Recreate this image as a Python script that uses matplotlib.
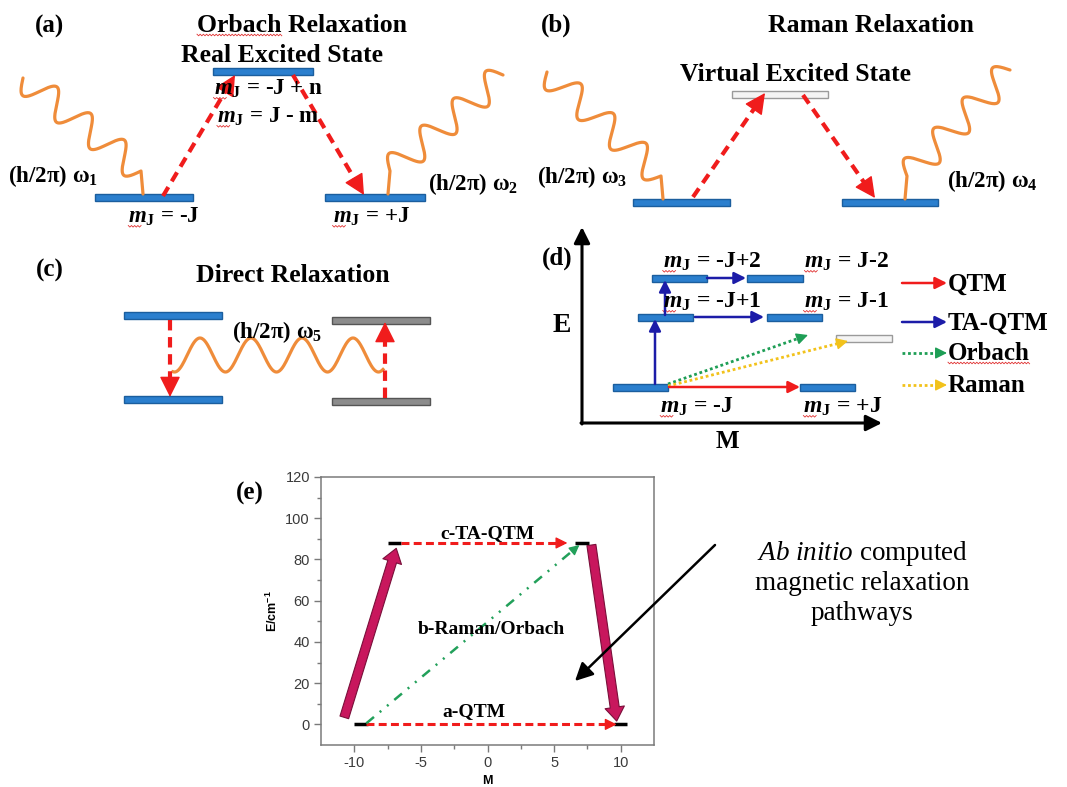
import numpy as np
import matplotlib.pyplot as plt
from matplotlib.patches import Rectangle

plt.rcParams['font.family'] = ['Liberation Serif', 'DejaVu Serif']
plt.rcParams['mathtext.fontset'] = 'custom'
plt.rcParams['mathtext.rm'] = 'Liberation Serif'
plt.rcParams['mathtext.it'] = 'Liberation Serif:italic'
plt.rcParams['mathtext.bf'] = 'Liberation Serif:bold'
plt.rcParams['mathtext.bfit'] = 'Liberation Serif:italic:bold'
plt.rcParams['mathtext.sf'] = 'Liberation Sans:bold'
plt.rcParams['axes.unicode_minus'] = False

# panel (e): computed levels (M, E in cm-1) and pathways
e_level_M = [-9.5, 10.0, -7.0, 7.1]
e_level_E = [0, 0, 88, 88]
e_qtm_M = [-9.1, 9.7]
e_qtm_E = [0, 0]
e_taqtm_M = [-6.5, 6.0]
e_taqtm_E = [88, 88]
e_orbach_M = [-9.1, 6.9]
e_orbach_E = [0.5, 87]
e_up_M = [-10.75, -6.85]
e_up_E = [3.4, 85.4]
e_down_M = [7.8, 9.7]
e_down_E = [87, 1.6]
e_xticks = [-10, -5, 0, 5, 10]
e_yticks = [0, 20, 40, 60, 80, 100, 120]

BLUE = ('#2b7fce', '#1b5e9e')
GREY = ('#8c8c8c', '#555555')
VIRT = ('#f4f4f4', '#9a9a9a')
RED = '#f01c1c'
ORANGE = '#ef8c3a'
NAVY = '#1c1ca8'

fig = plt.figure(figsize=(10.67, 7.87), dpi=100)
ax = fig.add_axes([0, 0, 1, 1])
ax.set_xlim(0, 1067)
ax.set_ylim(787, 0)
ax.axis('off')

underlined = []  # (text, width in px or None for whole word)


def level(x0, x1, y, style=BLUE, h=7):
    ax.add_patch(Rectangle((x0, y - h / 2), x1 - x0, h, facecolor=style[0],
                           edgecolor=style[1], lw=1))


def head(a, p0, p1, color, scale, hl=0.5, hw=0.25, lw=1):
    a.annotate('', xy=p1, xytext=p0, annotation_clip=False,
               arrowprops=dict(arrowstyle=f'-|>,head_length={hl},head_width={hw}',
                               color=color, lw=lw, mutation_scale=scale,
                               shrinkA=0, shrinkB=0))


def dashed_arrow(a, p0, p1, color, lw=3, dash=(2.5, 1.6), scale=26, hl=0.5, hw=0.25):
    tr = a.transData
    d0 = tr.transform(p0)
    d1 = tr.transform(p1)
    u = (d1 - d0) / np.hypot(*(d1 - d0))
    hpx = hl * scale * fig.dpi / 72
    back = tr.inverted().transform(d1 - u * hpx)
    mid = tr.inverted().transform(d1 - u * hpx * 0.5)
    a.plot([p0[0], mid[0]], [p0[1], mid[1]], color=color, lw=lw, ls=(0, dash),
           dash_capstyle='butt', clip_on=False)
    head(a, back, p1, color, scale, hl, hw)


def photon(p0, p1, cycles=3.5, amp=14, color=ORANGE, lw=2.3):
    # wiggly phonon line; p1 is where it meets a level
    p0 = np.array(p0, float)
    p1 = np.array(p1, float)
    q = p1 + np.array([-2.0 if p1[0] > p0[0] else 2.0, -23.0])
    d = q - p0
    n = np.array([-d[1], d[0]]) / np.hypot(*d)
    t = np.linspace(0, 1, 400)
    off = amp * np.sin(2 * np.pi * cycles * t)
    xs = np.r_[p0[0] + d[0] * t + n[0] * off, p1[0]]
    ys = np.r_[p0[1] + d[1] * t + n[1] * off, p1[1]]
    ax.plot(xs, ys, color=color, lw=lw, solid_capstyle='round', solid_joinstyle='round')


def mj(rest):
    return r'$\mathbfit{m}_{\mathbf{J}}$' + rest


def label(x, y, s, size=16, ha='center', **kw):
    return ax.text(x, y, s, fontsize=size, fontweight='bold', ha=ha, va='baseline', **kw)


def mlabel(x, y, rest, size):
    underlined.append((label(x, y, mj(rest), size), 13))


# (a) Orbach relaxation
label(50, 33, '(a)', 18)
underlined.append((label(302, 32, 'Orbach Relaxation', 18.5), 0.41))
label(282, 62, 'Real Excited State', 18.5)
level(213, 313, 71)
level(95, 193, 197)
level(325, 425, 197)
photon((23, 78), (143, 194))
photon((503, 75), (388, 194))
dashed_arrow(ax, (163, 196), (235, 75), RED)
dashed_arrow(ax, (293, 75), (364, 195), RED)
mlabel(268, 95, ' = -J + n', 16.5)
mlabel(268, 123, ' = J - m', 16.5)
mlabel(164, 223, ' = -J', 16.5)
mlabel(371, 223, ' = +J', 16.5)
label(8, 182, r'(h/2π) ω$_{\mathbf{1}}$', 16.5, ha='left')
label(428, 190, r'(h/2π) ω$_{\mathbf{2}}$', 16.5, ha='left')

# (b) Raman relaxation
label(556, 32, '(b)', 18)
label(871, 32, 'Raman Relaxation', 18.5)
label(795, 81, 'Virtual Excited State', 18.5)
level(732, 828, 94, VIRT)
level(633, 730, 202)
level(842, 938, 202)
photon((547, 72), (663, 199))
photon((1010, 70), (905, 199))
dashed_arrow(ax, (693, 197), (765, 93), RED)
dashed_arrow(ax, (803, 95), (875, 198), RED)
label(537, 183, r'(h/2π) ω$_{\mathbf{3}}$', 16.5, ha='left')
label(947, 187, r'(h/2π) ω$_{\mathbf{4}}$', 16.5, ha='left')

# (c) direct relaxation
label(50, 277, '(c)', 18)
label(293, 282, 'Direct Relaxation', 18.5)
level(124, 222, 315)
level(124, 222, 399)
level(332, 430, 320, GREY)
level(332, 430, 401, GREY)
xs = np.linspace(173, 383, 300)
ax.plot(xs, 355 - 17 * np.cos(2 * np.pi * (xs - 200) / 51), color=ORANGE, lw=2.3)
dashed_arrow(ax, (170, 320), (170, 397), RED)
dashed_arrow(ax, (385, 398), (385, 322), RED)
label(232, 338, r'(h/2π) ω$_{\mathbf{5}}$', 16.5, ha='left')

# (d) level scheme with pathways
head(ax, (582, 424), (582, 227), 'black', 16, 0.6, 0.3, lw=2.2)
head(ax, (581, 423), (882, 423), 'black', 16, 0.6, 0.3, lw=2.2)
label(557, 265, '(d)', 18)
label(562, 332, 'E', 20)
label(727, 448, 'M', 18)
level(613, 668, 387)
level(800, 855, 387)
level(638, 693, 317)
level(767, 822, 317)
level(652, 707, 278)
level(747, 803, 278)
level(836, 892, 338, VIRT)
head(ax, (655, 384), (655, 319), NAVY, 14, lw=1.8)
head(ax, (665, 315), (665, 280), NAVY, 14, lw=1.8)
head(ax, (707, 278), (746, 278), NAVY, 14, lw=1.8)
head(ax, (695, 317), (764, 317), NAVY, 14, lw=1.8)
head(ax, (669, 387), (800, 387), RED, 14, lw=1.8)
dashed_arrow(ax, (668, 384), (808, 335), '#1e9e55', lw=2, dash=(1, 1), scale=14)
dashed_arrow(ax, (668, 386), (848, 341), '#f2c21b', lw=2, dash=(1, 1), scale=14)
mlabel(712, 268, ' = -J+2', 17)
mlabel(847, 268, ' = J-2', 17)
mlabel(712, 308, ' = -J+1', 17)
mlabel(846, 308, ' = J-1', 17)
mlabel(697, 413, ' = -J', 17)
mlabel(843, 413, ' = +J', 17)
head(ax, (902, 283), (947, 283), RED, 14, lw=1.8)
head(ax, (902, 322), (947, 322), NAVY, 14, lw=1.8)
dashed_arrow(ax, (902, 353), (947, 353), '#1e9e55', lw=2, dash=(1, 1), scale=14)
dashed_arrow(ax, (902, 385), (947, 385), '#f2c21b', lw=2, dash=(1, 1), scale=14)
label(948, 291, 'QTM', 18, ha='left')
label(948, 330, 'TA-QTM', 18, ha='left')
underlined.append((label(948, 360, 'Orbach', 18, ha='left'), 1.0))
label(948, 392, 'Raman', 18, ha='left')

# (e) ab initio pathways
label(250, 500, '(e)', 18)
ax.text(862, 560, r'$\mathit{Ab\ initio}$ computed', fontsize=19.5, ha='center', va='baseline')
ax.text(862, 590, 'magnetic relaxation', fontsize=19.5, ha='center', va='baseline')
ax.text(862, 620, 'pathways', fontsize=19.5, ha='center', va='baseline')

axe = fig.add_axes([321 / 1067, 1 - 745 / 787, 333 / 1067, 268 / 787])
axe.set_xlim(-12.5, 12.5)
axe.set_ylim(-10, 120)
axe.set_xticks(e_xticks)
axe.set_yticks(e_yticks)
axe.set_xticks([-7.5, -2.5, 2.5, 7.5], minor=True)
axe.set_yticks([10, 30, 50, 70, 90, 110], minor=True)
axe.tick_params(direction='out', length=5, width=1, color='#7a7a7a',
                labelsize=10.5, labelcolor='#3a3a3a', pad=3)
axe.tick_params(which='minor', direction='out', length=3, width=1, color='#7a7a7a')
for lab in axe.get_xticklabels() + axe.get_yticklabels():
    lab.set_fontfamily('Liberation Sans')
for sp in axe.spines.values():
    sp.set_color('#7a7a7a')
    sp.set_linewidth(1.1)
axe.set_ylabel(r'$\mathsf{E/cm^{-1}}$', fontsize=9, labelpad=4)
axe.set_xlabel(r'$\mathsf{M}$', fontsize=9, labelpad=3)

for m, e in zip(e_level_M, e_level_E):
    axe.plot([m - 0.5, m + 0.5], [e, e], color='black', lw=2.5, solid_capstyle='butt')

dashed_arrow(axe, (e_qtm_M[0], e_qtm_E[0]), (e_qtm_M[1], e_qtm_E[1]), RED,
             lw=2.2, dash=(2.6, 1.4), scale=14)
dashed_arrow(axe, (e_taqtm_M[0], e_taqtm_E[0]), (e_taqtm_M[1], e_taqtm_E[1]), RED,
             lw=2.2, dash=(2.6, 1.4), scale=14)
dashed_arrow(axe, (e_orbach_M[0], e_orbach_E[0]), (e_orbach_M[1], e_orbach_E[1]), '#22a05a',
             lw=1.8, dash=(4, 3, 0.8, 3, 0.8, 3), scale=12)
for ms, es in [(e_up_M, e_up_E), (e_down_M, e_down_E)]:
    axe.annotate('', xy=(ms[1], es[1]), xytext=(ms[0], es[0]), annotation_clip=False,
                 arrowprops=dict(arrowstyle='simple,head_length=1.0,head_width=1.4,tail_width=0.65',
                                 fc='#c8175d', ec='#7a0f3a', lw=0.8, mutation_scale=10,
                                 shrinkA=0, shrinkB=0))

axe.text(0, 90.4, 'c-TA-QTM', fontsize=14, fontweight='bold', ha='center', va='baseline')
axe.text(0.3, 43.7, 'b-Raman/Orbach', fontsize=14, fontweight='bold', ha='center', va='baseline')
axe.text(-1.0, 3.9, 'a-QTM', fontsize=14, fontweight='bold', ha='center', va='baseline')

axe.annotate('', xy=(575, 787 - 681), xytext=(715, 787 - 545),
             xycoords='figure pixels', textcoords='figure pixels', annotation_clip=False,
             arrowprops=dict(arrowstyle='-|>,head_length=0.6,head_width=0.3',
                             color='black', lw=1.8, mutation_scale=18, shrinkA=0, shrinkB=0))

# red spell-check squiggles under flagged words
fig.canvas.draw()
renderer = fig.canvas.get_renderer()
inv = ax.transData.inverted()
for txt, w in underlined:
    bb = txt.get_window_extent(renderer)
    x0, y_low = inv.transform((bb.x0, bb.y0))
    x1, _ = inv.transform((bb.x1, bb.y0))
    width = w if w > 1 else (x1 - x0) * w
    zx = np.arange(x0, x0 + width, 1.6)
    zy = y_low - 2 + np.where(np.arange(len(zx)) % 2 == 0, -0.8, 0.8)
    ax.plot(zx, zy, color='#e03030', lw=0.6)

fig.savefig('out.png', dpi=100)
